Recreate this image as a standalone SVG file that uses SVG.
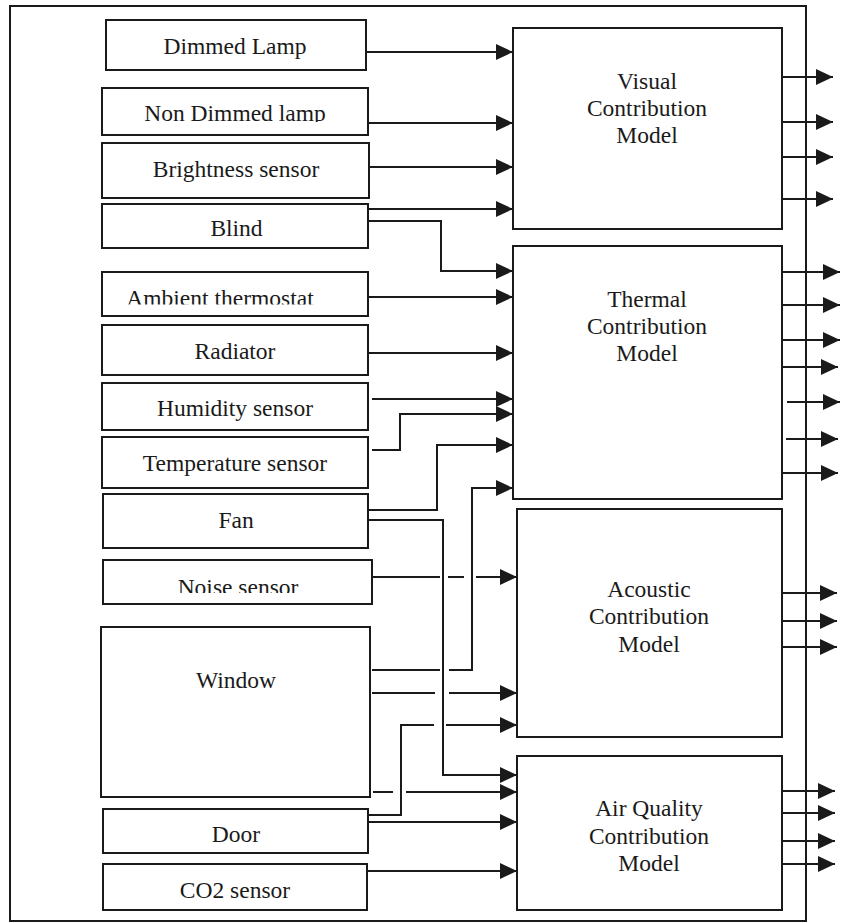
<svg xmlns="http://www.w3.org/2000/svg" width="843" height="923" viewBox="0 0 843 923">
<style>
.box{fill:#fff;stroke:#1a1a1a;stroke-width:2}
.frame{fill:none;stroke:#1a1a1a;stroke-width:2}
.t{font-family:"Liberation Serif","Times New Roman",serif;font-size:23.5px;fill:#1a1a1a;text-anchor:middle}
.c{fill:none;stroke:#1a1a1a;stroke-width:2}
.a{marker-end:url(#ah)}
</style>
<defs>
<marker id="ah" viewBox="0 0 17 16" refX="17" refY="8" markerWidth="17" markerHeight="16" markerUnits="userSpaceOnUse" orient="auto">
<path d="M0,0 L17,8 L0,16 Z" fill="#1a1a1a"/>
</marker>
<clipPath id="clipNon"><rect x="100" y="85" width="270" height="37"/></clipPath>
<clipPath id="clipAmb"><rect x="100" y="270" width="270" height="34.5"/></clipPath>
<clipPath id="clipNoise"><rect x="100" y="558" width="275" height="35"/></clipPath>
</defs>
<rect class="frame" x="10" y="6" width="796" height="915"/>
<g id="connectors">
<path class="c a" d="M366,52 H513"/>
<path class="c a" d="M368,123 H513"/>
<path class="c a" d="M368,167 H513"/>
<path class="c a" d="M368,209 H513"/>
<path class="c a" d="M368,221 H441 V271 H513"/>
<path class="c a" d="M368,297 H513"/>
<path class="c a" d="M368,353 H513"/>
<path class="c a" d="M372,399 H513"/>
<path class="c a" d="M372,450 H400 V414 H513"/>
<path class="c a" d="M368,510 H437 V445 H513"/>
<path class="c a" d="M372,670 H440 M449,670 H472 V488 H513"/>
<path class="c a" d="M367,520 H443 V775 H517"/>
<path class="c a" d="M372,577 H440 M448,577 H464 M476,577 H517"/>
<path class="c a" d="M372,693 H435 M449,693 H517"/>
<path class="c a" d="M368,815 H401 V725 H434 M446,725 H517"/>
<path class="c a" d="M373,792 H393 M406,792 H517"/>
<path class="c a" d="M368,822 H517"/>
<path class="c a" d="M368,871 H517"/>
<path class="c a" d="M782,77 H833"/>
<path class="c a" d="M782,122 H833"/>
<path class="c a" d="M782,157 H833"/>
<path class="c a" d="M782,199 H833"/>
<path class="c a" d="M782,272 H840"/>
<path class="c a" d="M782,305 H840"/>
<path class="c a" d="M782,340 H840"/>
<path class="c a" d="M778,367 H838"/>
<path class="c a" d="M787,402 H840"/>
<path class="c a" d="M786,439 H838"/>
<path class="c a" d="M782,473 H838"/>
<path class="c a" d="M782,593 H837"/>
<path class="c a" d="M782,621 H837"/>
<path class="c a" d="M782,647 H837"/>
<path class="c a" d="M782,791 H835"/>
<path class="c a" d="M782,813 H835"/>
<path class="c a" d="M782,841 H835"/>
<path class="c a" d="M780,864 H835"/>
</g>
<g id="dimmed-lamp"><rect class="box" x="106" y="20" width="260" height="50"/><text class="t" x="235" y="54">Dimmed Lamp</text></g>
<g id="non-dimmed-lamp"><rect class="box" x="102" y="88" width="266" height="47"/><text class="t" x="235" y="120.5" clip-path="url(#clipNon)">Non Dimmed lamp</text></g>
<g id="brightness-sensor"><rect class="box" x="102" y="143" width="267" height="55"/><text class="t" x="236" y="176.5">Brightness sensor</text></g>
<g id="blind"><rect class="box" x="102" y="204" width="266" height="44"/><text class="t" x="236.5" y="236">Blind</text></g>
<g id="ambient-thermostat"><rect class="box" x="102" y="272" width="266" height="44"/><text class="t" x="220" y="306" clip-path="url(#clipAmb)">Ambient thermostat</text></g>
<g id="radiator"><rect class="box" x="102" y="325" width="266" height="50"/><text class="t" x="235" y="359">Radiator</text></g>
<g id="humidity-sensor"><rect class="box" x="102" y="383" width="266" height="47"/><text class="t" x="235" y="416">Humidity sensor</text></g>
<g id="temperature-sensor"><rect class="box" x="102" y="437" width="266" height="51"/><text class="t" x="235" y="471">Temperature sensor</text></g>
<g id="fan"><rect class="box" x="103" y="494" width="265" height="54"/><text class="t" x="236" y="528">Fan</text></g>
<g id="noise-sensor"><rect class="box" x="103" y="560" width="269" height="44"/><text class="t" x="238" y="595" clip-path="url(#clipNoise)">Noise sensor</text></g>
<g id="window"><rect class="box" x="101" y="627" width="269" height="170"/><text class="t" x="236" y="688">Window</text></g>
<g id="door"><rect class="box" x="103" y="809" width="265" height="44"/><text class="t" x="236" y="841.5">Door</text></g>
<g id="co2-sensor"><rect class="box" x="103" y="864" width="264" height="46"/><text class="t" x="235" y="898">CO2 sensor</text></g>
<g id="visual-model"><rect class="box" x="513" y="28" width="269" height="201"/><text class="t" x="647" y="89">Visual</text><text class="t" x="647" y="115.5">Contribution</text><text class="t" x="647" y="143">Model</text></g>
<g id="thermal-model"><rect class="box" x="513" y="246" width="269" height="253"/><text class="t" x="647" y="306.5">Thermal</text><text class="t" x="647" y="333.5">Contribution</text><text class="t" x="647" y="360.5">Model</text></g>
<g id="acoustic-model"><rect class="box" x="517" y="509" width="265" height="228"/><text class="t" x="649" y="596.5">Acoustic</text><text class="t" x="649" y="624">Contribution</text><text class="t" x="649" y="651.5">Model</text></g>
<g id="air-quality-model"><rect class="box" x="517" y="756" width="265" height="154"/><text class="t" x="649" y="816">Air Quality</text><text class="t" x="649" y="844">Contribution</text><text class="t" x="649" y="870.5">Model</text></g>
</svg>
